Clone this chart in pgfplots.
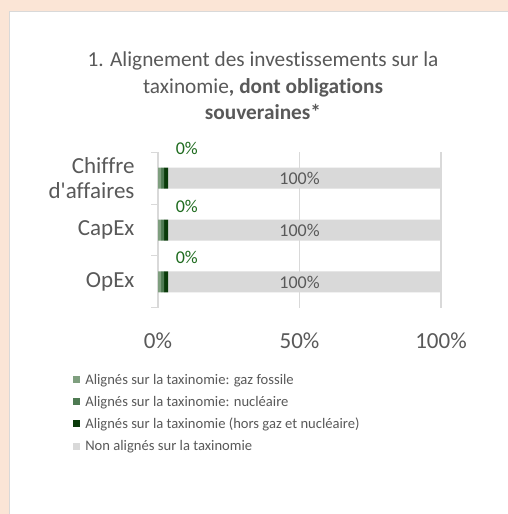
\documentclass[border=0pt]{standalone}
\usepackage{fontspec}
\setmainfont{Carlito}[Ligatures={NoCommon}]
\newfontfamily\carl{Carlito}[Ligatures={NoCommon}]
\usepackage{pgfplots}
\pgfplotsset{compat=1.18}
\definecolor{peach}{HTML}{FBE5D6}
\definecolor{txt}{HTML}{595959}
\definecolor{gas}{HTML}{7F9F7F}
\definecolor{nuc}{HTML}{4E7A52}
\definecolor{hors}{HTML}{0A3A0A}
\definecolor{nonal}{HTML}{D9D9D9}
\definecolor{lblgreen}{HTML}{1E6B1E}
\definecolor{gridc}{HTML}{D9D9D9}

\begin{document}
\begin{tikzpicture}[x=1pt,y=1pt]
\path[use as bounding box] (0pt,0pt) rectangle (508pt,514pt);
\fill[peach] (0pt,0pt) rectangle (508pt,514pt);
\filldraw[fill=white,draw=gridc,line width=1pt] (9pt,-5pt) rectangle (515pt,502pt);
\node[align=center,text=txt,font=\fontsize{21.3}{26.5}\selectfont] at (263pt,428pt)
  {1. Alignement des investissements sur la\\taxinomie\textbf{, dont obligations}\\\textbf{souveraines*}};

\begin{axis}[
  at={(158pt,206pt)}, anchor=south west,
  scale only axis, width=283pt, height=156pt,
  xbar stacked, bar width=21pt,
  xmin=0, xmax=100, ymin=-0.5, ymax=2.5,
  clip=false,
  axis lines*=left,
  x axis line style={draw=none},
  y axis line style={draw=gridc, line width=1pt},
  xtick={0,50,100}, xticklabels={0\%,50\%,100\%},
  ytick={0,1,2}, yticklabels={OpEx,CapEx,{Chiffre\\{\carl d'affaires}}},
  minor ytick={-0.5,0.5,1.5,2.5},
  major tick length=0pt, minor tick length=7pt, tick align=outside,
  every tick/.style={draw=gridc, line width=1pt},
  xmajorgrids, major grid style={draw=gridc, line width=1.3pt},
  ticklabel style={text=txt, font=\fontsize{23}{25}\selectfont},
  xticklabel style={yshift=-21pt},
  yticklabel style={align=right, xshift=-20pt},
  legend style={at={(-0.300,-0.410)}, anchor=north west, draw=none, fill=none,
    inner sep=0pt, font=\fontsize{14.6}{16}\selectfont, text=txt, row sep=6.2pt,
    /tikz/every odd column/.append style={column sep=3pt}},
  legend cell align=left,
  legend image code/.code={\draw[#1,draw=none] (0pt,-3.5pt) rectangle (7pt,3.5pt);},
]
\addplot[fill=gas, draw=none] coordinates {(1.1,0) (1.1,1) (1.1,2)};
\addplot[fill=nuc, draw=none] coordinates {(1.1,0) (1.1,1) (1.1,2)};
\addplot[fill=hors, draw=none] coordinates {(1.4,0) (1.4,1) (1.4,2)};
\addplot[fill=nonal, draw=none] coordinates {(96.4,0) (96.4,1) (96.4,2)};
\legend{Alignés sur la taxinomie: gaz fossile, Alignés sur la taxinomie: nucléaire,
  Alignés sur la taxinomie (hors gaz et nucléaire), Non alignés sur la taxinomie}

\coordinate (z2) at (axis cs:10.2,2.56);
\coordinate (z1) at (axis cs:10.2,1.46);
\coordinate (z0) at (axis cs:10.2,0.48);
\coordinate (h2) at (axis cs:50,2);
\coordinate (h1) at (axis cs:50,1);
\coordinate (h0) at (axis cs:50,0);
\end{axis}
\foreach \k in {0,1,2} {
  \node[text=lblgreen, font=\fontsize{18}{18}\selectfont] at (z\k) {0\%};
  \node[text=txt, font=\fontsize{18}{18}\selectfont] at (h\k) {100\%};
}
\end{tikzpicture}
\end{document}
